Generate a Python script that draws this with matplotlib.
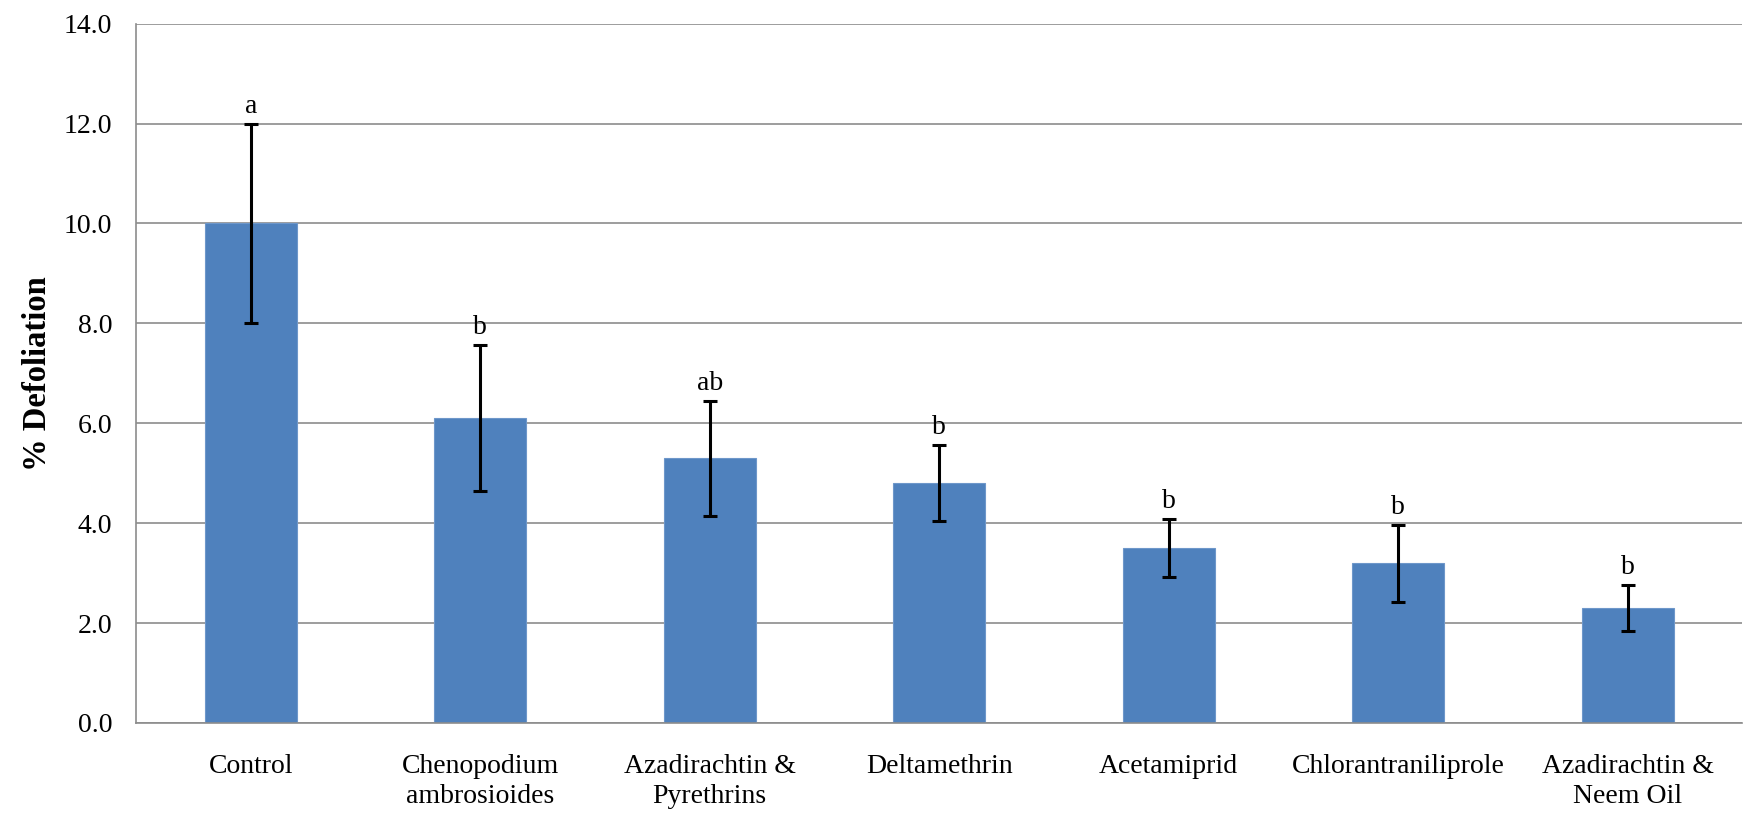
import numpy as np
import matplotlib.pyplot as plt

treatments = ["Control", "Chenopodium\nambrosioides", "Azadirachtin &\nPyrethrins",
              "Deltamethrin", "Acetamiprid", "Chlorantraniliprole",
              "Azadirachtin &\nNeem Oil"]
defoliation = [10.0, 6.1, 5.3, 4.8, 3.5, 3.2, 2.3]
std_err = [2.0, 1.46, 1.15, 0.76, 0.58, 0.77, 0.46]
groups = ["a", "b", "ab", "b", "b", "b", "b"]

plt.rcParams["font.family"] = "Liberation Serif"

fig = plt.figure(figsize=(17.5, 8.16), dpi=100)
ax = fig.add_axes([0.0777, 0.114, 0.918, 0.857])

x = np.arange(len(treatments))
ax.bar(x, defoliation, width=0.4, color="#4F81BD", edgecolor="#6E97CA",
       linewidth=0.8, zorder=2)
ax.errorbar(x, defoliation, yerr=std_err, fmt="none", ecolor="black",
            elinewidth=2.2, capsize=4.7, capthick=2.2, zorder=3)

# significance letters just above each error bar
for xi, m, e, g in zip(x, defoliation, std_err, groups):
    ax.annotate(g, (xi, m + e), xytext=(0, 3.5), textcoords="offset points",
                ha="center", va="bottom", fontsize=20)

ax.set_xlim(-0.5, len(treatments) - 0.5)
ax.set_ylim(0, 14)
ax.set_yticks(np.arange(0, 14.1, 2))
ax.set_yticklabels([f"{v:.1f}" for v in np.arange(0, 14.1, 2)])
ax.set_xticks(x)
ax.set_xticklabels(treatments, linespacing=1.27)
ax.tick_params(axis="both", length=0, labelsize=20)
ax.tick_params(axis="y", pad=17)
ax.tick_params(axis="x", pad=22)

ax.yaxis.grid(True, color="#8C8C8C", linewidth=1.2, zorder=0)
ax.set_axisbelow(True)
for side in ["top", "right"]:
    ax.spines[side].set_visible(False)
for side in ["left", "bottom"]:
    ax.spines[side].set_color("#8C8C8C")
    ax.spines[side].set_linewidth(1.2)

ax.set_ylabel("% Defoliation", fontsize=23.5, fontweight="bold", labelpad=8)

fig.savefig("out.png", dpi=100)
